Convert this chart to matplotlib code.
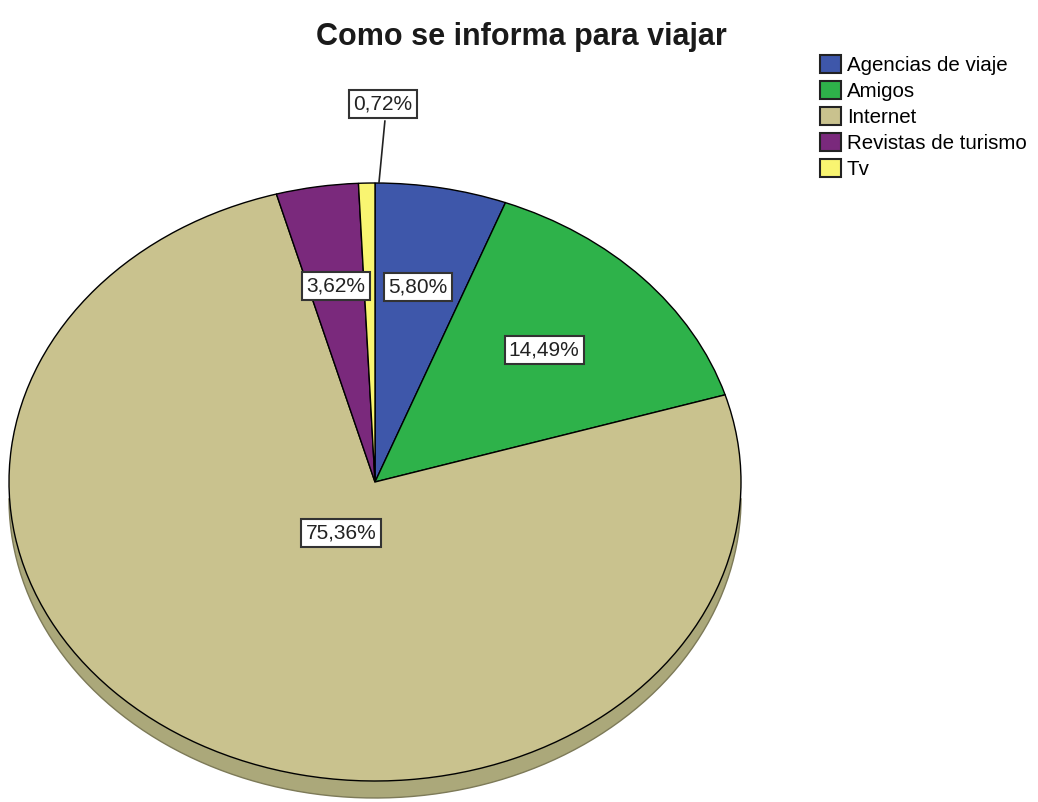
import matplotlib.pyplot as plt
import numpy as np
from matplotlib.patches import Patch, Polygon

plt.rcParams['font.family'] = ['Liberation Sans', 'DejaVu Sans']

# Data
categories = ["Agencias de viaje", "Amigos", "Internet", "Revistas de turismo", "Tv"]
percentages = [5.80, 14.49, 75.36, 3.62, 0.72]
colors = ["#3e57aa", "#2eb24a", "#c9c28e", "#7a297c", "#f9f571"]

# where each percentage box sits (pie coordinates, radius 1)
label_pos = [(0.117, 0.652), (0.462, 0.441), (-0.093, -0.171), (-0.107, 0.656), (0.022, 1.264)]

W, H = 1038, 802
fig = plt.figure(figsize=(W / 100, H / 100), dpi=100)

# pie top face: center (375, 482) px, radii 366 x 299 px
cx, cy, rx, ry = 375, 482, 366, 299
ax = fig.add_axes([(cx - rx) / W, (H - cy - ry) / H, 2 * rx / W, 2 * ry / H])

# side of the tilted disc, drawn first so the top face covers it
depth = 17 / ry
t = np.linspace(np.pi, 2 * np.pi, 200)
top = np.column_stack([np.cos(t), np.sin(t)])
bottom = np.column_stack([np.cos(t[::-1]), np.sin(t[::-1]) - depth])
side = Polygon(np.vstack([top, bottom]), closed=True, facecolor="#aba87a",
               edgecolor="none", clip_on=False, zorder=0)
ax.add_patch(side)
ax.plot(np.cos(t), np.sin(t) - depth, color="#7d7a58", lw=1.0, clip_on=False, zorder=0.5)

wedges, _ = ax.pie(percentages, colors=colors, startangle=90, counterclock=False,
                   radius=1, wedgeprops=dict(edgecolor="black", linewidth=1.0))
for w in wedges:
    w.set_zorder(1)
ax.set_aspect("auto")
ax.set_xlim(-1, 1)
ax.set_ylim(-1, 1)
ax.axis("off")

for (x, y), p in zip(label_pos, percentages):
    txt = f"{p:.2f}%".replace(".", ",")
    ax.text(x, y, txt, ha="center", va="center", fontsize=15, color="#222222", zorder=5,
            clip_on=False,
            bbox=dict(boxstyle="square,pad=0.2", facecolor="white", edgecolor="#333333", linewidth=1.5))

# leader line for the thin Tv slice
ax.plot([0.027, 0.011], [1.207, 1.003], color="#222222", lw=1.2, clip_on=False, zorder=4)

fig.text(521 / W, 1 - 45 / H, "Como se informa para viajar", ha="center", va="baseline",
         fontsize=22, fontweight="bold", color="#1a1a1a")

handles = [Patch(facecolor=c, edgecolor="#222222", linewidth=1.5) for c in colors]
fig.legend(handles, categories, loc="upper left", bbox_to_anchor=(820 / W, 1 - 55 / H),
           frameon=False, fontsize=14.8, handlelength=1.0, handleheight=0.95,
           handletextpad=0.3, labelspacing=0.3, borderpad=0, borderaxespad=0)

fig.savefig("out.png", dpi=100)
